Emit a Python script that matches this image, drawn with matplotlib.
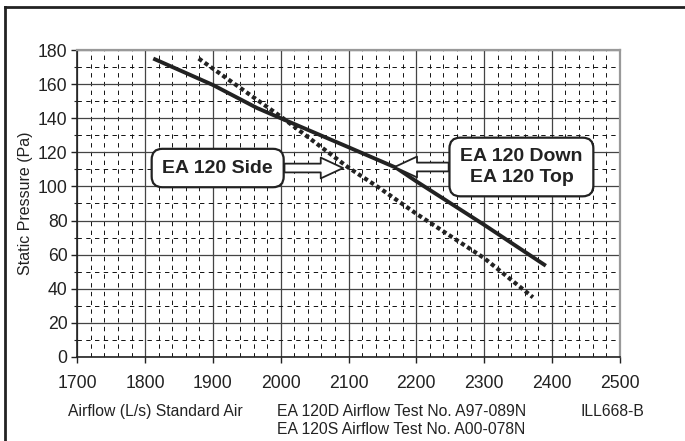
import matplotlib
matplotlib.use("Agg")
import matplotlib.pyplot as plt
from matplotlib.lines import Line2D
from matplotlib.ticker import MultipleLocator

plt.rcParams['font.family'] = ['Liberation Sans', 'DejaVu Sans']

# EA 120 Down / Top (solid)
airflow_down = [1812, 1900, 1965, 2000, 2100, 2170, 2200, 2300, 2391]
pressure_down = [175, 159.5, 146, 140, 123, 111, 103, 77.5, 53.5]

# EA 120 Side (dotted)
airflow_side = [1879, 2000, 2100, 2146, 2200, 2300, 2372]
pressure_side = [175, 141, 111, 99, 84, 58, 35]

x_ticks = [1700, 1800, 1900, 2000, 2100, 2200, 2300, 2400, 2500]
y_ticks = [0, 20, 40, 60, 80, 100, 120, 140, 160, 180]

ink = '#222222'

fig = plt.figure(figsize=(6.85, 4.41), dpi=100)
ax = fig.add_axes([0.1129, 0.1905, 0.7918, 0.6961])

ax.set_xlim(1700, 2500)
ax.set_ylim(0, 180)
ax.set_xticks(x_ticks)
ax.set_yticks(y_ticks)
ax.xaxis.set_minor_locator(MultipleLocator(20))
ax.yaxis.set_minor_locator(MultipleLocator(10))

ax.grid(which='major', color='#444444', lw=0.9, ls='-')
ax.grid(which='minor', color='#111111', lw=0.7, ls=(0, (4.5, 4.5)))
ax.set_axisbelow(True)

ax.tick_params(axis='both', which='major', labelsize=12.7, labelcolor=ink,
               color=ink, length=4, width=1)
ax.tick_params(axis='x', which='major', pad=9)
ax.tick_params(axis='y', which='major', pad=3)
ax.tick_params(axis='x', which='minor', length=0)
ax.tick_params(axis='y', which='minor', length=2.5, width=0.8, color=ink)

for s in ['top', 'right']:
    ax.spines[s].set_color('#999999')
    ax.spines[s].set_linewidth(1.6)
for s in ['left', 'bottom']:
    ax.spines[s].set_color(ink)
    ax.spines[s].set_linewidth(1.2)

ax.plot(airflow_down, pressure_down, color=ink, lw=2.8, solid_capstyle='butt', zorder=3)
ax.plot(airflow_side, pressure_side, color=ink, lw=3, ls=(0, (1, 0.75)), zorder=3)

ax.set_ylabel('Static Pressure (Pa)', fontsize=11.5, color=ink)
ax.yaxis.set_label_coords(-0.082, 0.5)

box = dict(boxstyle='round,pad=0.55,rounding_size=0.55', fc='white', ec=ink, lw=1.6)
arrow = dict(arrowstyle='simple,head_length=1.4,head_width=1.3,tail_width=0.55',
             fc='white', ec=ink, lw=1.3, shrinkA=0, shrinkB=0, mutation_scale=11.5)

ax.annotate('EA 120 Side', xy=(2092, 110.8), xytext=(1907, 110.8),
            fontsize=14, fontweight='bold', color=ink, ha='center', va='center',
            bbox=box, arrowprops=arrow, zorder=5)
ax.annotate('EA 120 Down\nEA 120 Top', xy=(2168, 111.4), xytext=(2355, 111.4),
            fontsize=14, fontweight='bold', color=ink, ha='center', va='center',
            linespacing=1.25, bbox=box, arrowprops=arrow, zorder=5)

W, H = 685, 441
fig.text(68 / W, 1 - 416 / H, 'Airflow (L/s) Standard Air', fontsize=11.3,
         color=ink, va='baseline')
fig.text(277 / W, 1 - 416 / H, 'EA 120D Airflow Test No. A97-089N', fontsize=11.3,
         color=ink, va='baseline')
fig.text(277 / W, 1 - 434 / H, 'EA 120S Airflow Test No. A00-078N', fontsize=11.3,
         color=ink, va='baseline')
fig.text(580 / W, 1 - 416 / H, 'ILL668-B', fontsize=11.3, color=ink, va='baseline')

# outer frame (left and top edges)
fig.add_artist(Line2D([5.3 / W, 5.3 / W], [0, 1 - 7 / H], color=ink, lw=2))
fig.add_artist(Line2D([5.3 / W, 1], [1 - 7 / H, 1 - 7 / H], color=ink, lw=2))

fig.savefig('out.png', dpi=100)
